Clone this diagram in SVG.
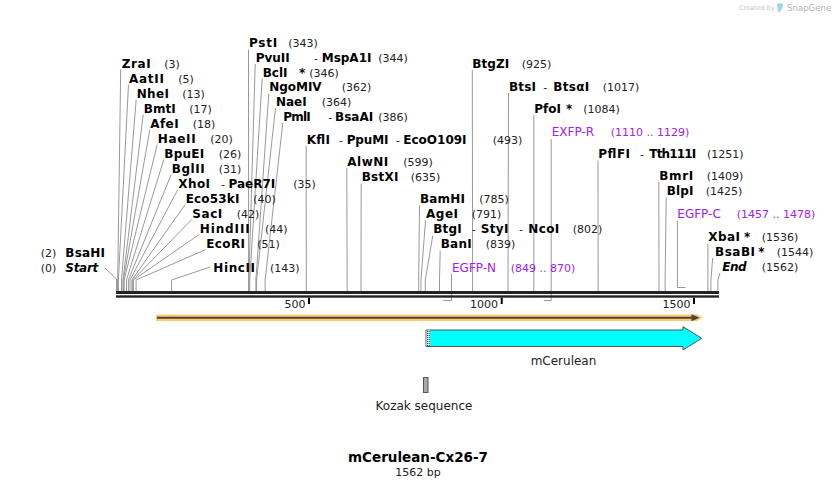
<svg xmlns="http://www.w3.org/2000/svg" width="836" height="488" viewBox="0 0 836 488">
<style>
text{font-family:"DejaVu Sans","Liberation Sans",sans-serif}
.l{font-size:12px;font-weight:bold;fill:#000}
.i{font-style:italic}
.n{font-size:11px;fill:#222}
.p{font-size:12px;fill:#a020f0}
.pn{font-size:11px;fill:#a020f0}
.c path{fill:none;stroke:#999;stroke-width:1}
.pl{fill:none;stroke:#a020f0;stroke-width:1}
.pb{fill:none;stroke:#a020f0;stroke-width:2}
.tk{stroke:#000;stroke-width:2}
.rl{font-size:11px;fill:#222;text-anchor:end}
</style>
<rect width="836" height="488" fill="#fff"/>

<g id="watermark">
<text x="739" y="10" style="font-size:6.5px;fill:#c4c4c4">Created by</text>
<path d="M777 3.5 h6 v3 l-3 5.5 h-2 z" fill="#9fd3f2"/>
<text x="787" y="11" style="font-size:8.6px;fill:#b4b4b4">SnapGene</text>
</g>

<g id="connectors" class="c">
<path d="M120.7 69.5 L117.7 280 V291"/>
<path d="M128.5 84.5 L118.4 280 V291"/>
<path d="M136.2 99.5 L121.5 280 V291"/>
<path d="M143.2 114.5 L123 280 V291"/>
<path d="M149.8 129.5 L123.4 280 V291"/>
<path d="M157.2 144.5 L124.2 280 V291"/>
<path d="M163.8 159.5 L126.5 280 V291"/>
<path d="M171.2 174.5 L128.4 280 V291"/>
<path d="M177.8 189.5 L130 280 V291"/>
<path d="M185.2 204.5 L131.9 280 V291"/>
<path d="M191.8 219.5 L132.7 280 V291"/>
<path d="M199.2 234.5 L133.4 280 V291"/>
<path d="M205.8 249.5 L136.1 280 V291"/>
<path d="M210 267 L171.6 280 V291"/>
<path d="M117.3 280 V291"/>
<path d="M105 268 L116.5 279 V291"/>
<path d="M248.5 49.5 L248.6 280 V291"/>
<path d="M255.2 64 L248.9 280 V291"/>
<path d="M262.2 78.5 L249.7 280 V291"/>
<path d="M268.8 93.5 L255.9 280 V291"/>
<path d="M275.5 108 L256.6 280 V291"/>
<path d="M282.8 123 L265.1 280 V291"/>
<path d="M306.2 146 L306.3 280 V291"/>
<path d="M346.8 168 L347.1 280 V291"/>
<path d="M361.2 183.5 L361 280 V291"/>
<path d="M419.5 205.5 L418.7 280 V291"/>
<path d="M425.5 220.5 L421 280 V291"/>
<path d="M432.8 235.5 L425.3 280 V291"/>
<path d="M440.2 250.5 L439.5 280 V291"/>
<path d="M472.3 70 L472.6 280 V291"/>
<path d="M508.5 93 L508 280 V291"/>
<path d="M533.8 115.5 L533.8 280 V291"/>
<path d="M598 160.5 L598.1 280 V291"/>
<path d="M658.8 182 L659 280 V291"/>
<path d="M666.2 197.5 L665.1 280 V291"/>
<path d="M707.9 243.5 L707.9 280 V291"/>
<path d="M712.7 258 L710.9 280 V291"/>
<path d="M720 273 L717.9 280 V291"/>
<path class="pl" d="M451.5 274 V297"/>
<path class="pb" d="M451.5 296 V300.5 H443.4"/>
<path class="pl" d="M551.2 139 V297"/>
<path class="pb" d="M551.2 296 V300.5 H543.8"/>
<path class="pb" d="M677.4 221 V287.5 H685.5"/>
</g>

<g id="backbone">
<rect x="116" y="291" width="603" height="3" fill="#222"/>
<rect x="116" y="295.3" width="603" height="2.4" fill="#222"/>
<line class="tk" x1="309" y1="297.7" x2="309" y2="304"/>
<line class="tk" x1="501.7" y1="297.7" x2="501.7" y2="304"/>
<line class="tk" x1="694" y1="297.7" x2="694" y2="304"/>
<text class="rl" x="305.5" y="308">500</text>
<text class="rl" x="498" y="308">1000</text>
<text class="rl" x="690.5" y="308">1500</text>
</g>

<g id="site-left">
<text class="l" x="121.7" y="68" textLength="29">ZraI</text><text class="n" x="164.3" y="68">(3)</text>
<text class="l" x="129" y="83" textLength="35">AatII</text><text class="n" x="178.3" y="83">(5)</text>
<text class="l" x="136.7" y="98" textLength="32.3">NheI</text><text class="n" x="182.3" y="98">(13)</text>
<text class="l" x="143.7" y="113" textLength="32">BmtI</text><text class="n" x="189.3" y="113">(17)</text>
<text class="l" x="150.3" y="128" textLength="28.3">AfeI</text><text class="n" x="192.7" y="128">(18)</text>
<text class="l" x="157.7" y="143" textLength="38">HaeII</text><text class="n" x="210.3" y="143">(20)</text>
<text class="l" x="164.3" y="158" textLength="40">BpuEI</text><text class="n" x="218.7" y="158">(26)</text>
<text class="l" x="171.7" y="173" textLength="33">BglII</text><text class="n" x="218.7" y="173">(31)</text>
<text class="l" x="178.3" y="188" textLength="31.7">XhoI</text><text class="n" x="221" y="188">-</text><text class="l" x="228.5" y="188">PaeR7I</text><text class="n" x="293.3" y="188">(35)</text>
<text class="l" x="185.7" y="203" textLength="53.7">Eco53kI</text><text class="n" x="253.3" y="203">(40)</text>
<text class="l" x="192.3" y="218" textLength="30">SacI</text><text class="n" x="236.7" y="218">(42)</text>
<text class="l" x="199.7" y="233" textLength="50">HindIII</text><text class="n" x="265" y="233">(44)</text>
<text class="l" x="206.3" y="248" textLength="38.7">EcoRI</text><text class="n" x="257.3" y="248">(51)</text>
<text class="l" x="213.3" y="271.5" textLength="41.7">HincII</text><text class="n" x="270" y="271.5">(143)</text>
<text class="n" x="40.7" y="256.5">(2)</text><text class="l" x="65.3" y="256.5" textLength="39.7">BsaHI</text>
<text class="n" x="40.7" y="271.5">(0)</text><text class="l i" x="65.3" y="271.5" textLength="33">Start</text>
</g>

<g id="site-mid">
<text class="l" x="249" y="47" textLength="28.3">PstI</text><text class="n" x="288.3" y="47">(343)</text>
<text class="l" x="255.7" y="61.5">PvuII</text><text class="n" x="314" y="61.5">-</text><text class="l" x="321.7" y="61.5">MspA1I</text><text class="n" x="378.3" y="61.5">(344)</text>
<text class="l" x="262.7" y="76.5">BclI</text><text class="l" x="299" y="76.5">*</text><text class="n" x="309.3" y="76.5">(346)</text>
<text class="l" x="269.3" y="91" textLength="52.3">NgoMIV</text><text class="n" x="341.7" y="91">(362)</text>
<text class="l" x="276" y="105.5" textLength="30.7">NaeI</text><text class="n" x="321.7" y="105.5">(364)</text>
<text class="l" x="283.3" y="120.5" textLength="27.3">PmlI</text><text class="n" x="328.3" y="120.5">-</text><text class="l" x="335" y="120.5" textLength="38.3">BsaAI</text><text class="n" x="378.3" y="120.5">(386)</text>
<text class="l" x="306.7" y="143.5" textLength="23.3">KflI</text><text class="n" x="339" y="143.5">-</text><text class="l" x="346.7" y="143.5" textLength="41.7">PpuMI</text><text class="n" x="396" y="143.5">-</text><text class="l" x="403.3" y="143.5">EcoO109I</text><text class="n" x="492.7" y="143.5">(493)</text>
<text class="l" x="347.3" y="165.5" textLength="41">AlwNI</text><text class="n" x="403.3" y="165.5">(599)</text>
<text class="l" x="361.7" y="181" textLength="36.7">BstXI</text><text class="n" x="410.7" y="181">(635)</text>
<text class="l" x="420" y="203" textLength="45">BamHI</text><text class="n" x="479.3" y="203">(785)</text>
<text class="l" x="426" y="218" textLength="32">AgeI</text><text class="n" x="471.7" y="218">(791)</text>
<text class="l" x="433.3" y="233" textLength="28.3">BtgI</text><text class="n" x="471.7" y="233">-</text><text class="l" x="480.7" y="233" textLength="27.7">StyI</text><text class="n" x="519" y="233">-</text><text class="l" x="528.3" y="233" textLength="31">NcoI</text><text class="n" x="572.7" y="233">(802)</text>
<text class="l" x="440.7" y="248" textLength="31">BanI</text><text class="n" x="485.7" y="248">(839)</text>
</g>

<g id="site-right">
<text class="l" x="472.3" y="67.5" textLength="37">BtgZI</text><text class="n" x="521.7" y="67.5">(925)</text>
<text class="l" x="509" y="90.7" textLength="27">BtsI</text><text class="n" x="543.3" y="90.7">-</text><text class="l" x="553.3" y="90.7" textLength="36">BtsαI</text><text class="n" x="602.7" y="90.7">(1017)</text>
<text class="l" x="534.3" y="113" textLength="26.7">PfoI</text><text class="l" x="566" y="113">*</text><text class="n" x="583.3" y="113">(1084)</text>
<text class="l" x="598.3" y="158" textLength="31.7">PflFI</text><text class="n" x="640" y="158">-</text><text class="l" x="649.3" y="158" textLength="47">Tth111I</text><text class="n" x="707" y="158">(1251)</text>
<text class="l" x="659.3" y="179.5" textLength="34">BmrI</text><text class="n" x="706.7" y="179.5">(1409)</text>
<text class="l" x="666.7" y="195" textLength="26.7">BlpI</text><text class="n" x="705.7" y="195">(1425)</text>
<text class="l" x="708.3" y="241" textLength="31.7">XbaI</text><text class="l" x="744" y="241">*</text><text class="n" x="761.7" y="241">(1536)</text>
<text class="l" x="715" y="256" textLength="40">BsaBI</text><text class="l" x="758.3" y="256">*</text><text class="n" x="776.7" y="256">(1544)</text>
<text class="l i" x="722.3" y="271" textLength="24.3">End</text><text class="n" x="761.7" y="271">(1562)</text>
</g>

<g id="primer-EGFP-N"><text class="p" x="452" y="271.5">EGFP-N</text><text class="pn" x="510.7" y="271.5">(849 .. 870)</text></g>
<g id="primer-EXFP-R"><text class="p" x="551.7" y="136">EXFP-R</text><text class="pn" x="610.7" y="136">(1110 .. 1129)</text></g>
<g id="primer-EGFP-C"><text class="p" x="677.3" y="218">EGFP-C</text><text class="pn" x="736.7" y="218">(1457 .. 1478)</text></g>

<g id="feature-line">
<polygon points="156,314.5 697,314.5 702.5,317.7 697,321 156,321" fill="#fdc972"/>
<line x1="157" y1="317.7" x2="693" y2="317.7" stroke="#4d4535" stroke-width="2"/>
<polygon points="691.5,314.2 699.5,317.7 691.5,321.2" fill="#4d4535"/>
</g>

<g id="mCerulean">
<polygon points="426,330 683,330 683,326.7 701.7,338.3 683,350 683,346.5 426,346.5" fill="#00ffff" stroke="#555" stroke-width="1"/>
<rect x="426.5" y="330.5" width="3.5" height="15.5" fill="#e8ffff"/>
<line x1="427.5" y1="331" x2="427.5" y2="346" stroke="#000" stroke-width="0.8" stroke-dasharray="1 1"/>
<line x1="429.2" y1="331" x2="429.2" y2="346" stroke="#000" stroke-width="0.8" stroke-dasharray="1 1"/>
<text x="563.5" y="365" style="font-size:12px;fill:#222;text-anchor:middle">mCerulean</text>
</g>

<g id="kozak">
<rect x="423.5" y="377.5" width="4.5" height="15" fill="#a6aab0" stroke="#555" stroke-width="1"/>
<text x="424" y="409.5" style="font-size:12px;fill:#222;text-anchor:middle">Kozak sequence</text>
</g>

<g id="title">
<text x="418" y="461.7" style="font-size:13.5px;font-weight:bold;fill:#000;text-anchor:middle">mCerulean-Cx26-7</text>
<text x="418" y="476" style="font-size:11px;fill:#222;text-anchor:middle">1562 bp</text>
</g>
</svg>
